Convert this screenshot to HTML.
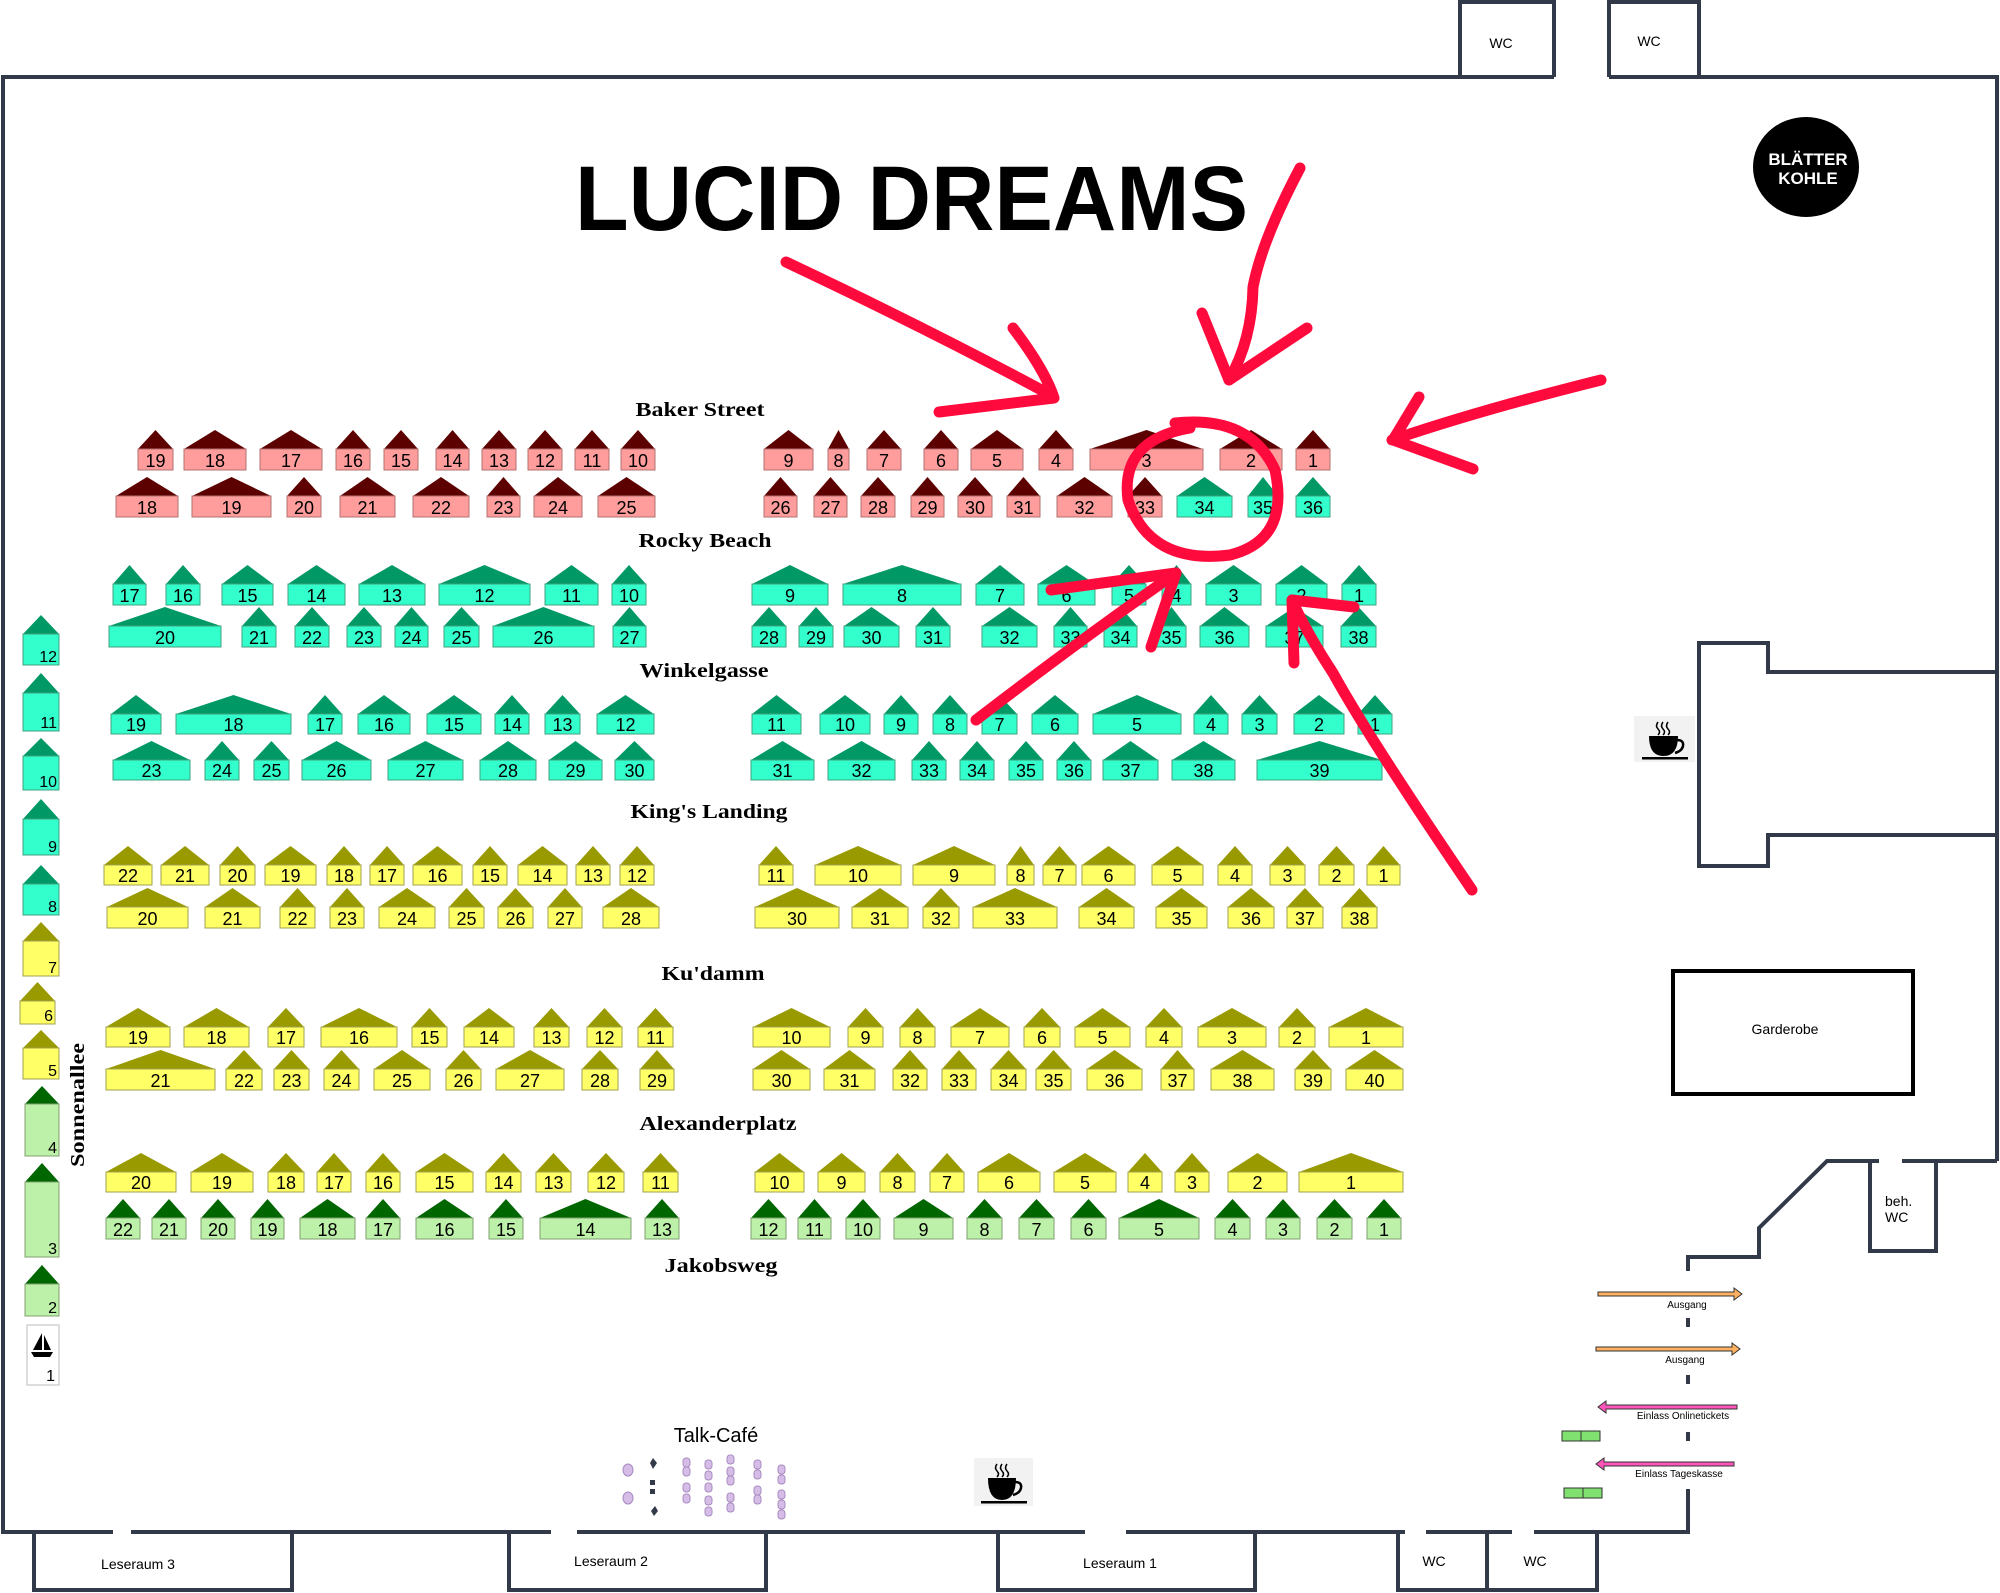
<!DOCTYPE html>
<html><head><meta charset="utf-8"><style>
html,body{margin:0;padding:0;background:#fff}
svg{display:block}
text{font-family:"Liberation Sans",sans-serif}
.n text{font-size:18px;text-anchor:middle;fill:#000}
.p polygon{fill:#5c0000}.p rect{fill:#ff9c9c;stroke:#b07070;stroke-width:1}
.t polygon{fill:#009966}.t rect{fill:#33ffcc;stroke:#40a080;stroke-width:1}
.y polygon{fill:#999900}.y rect{fill:#ffff66;stroke:#a0a050;stroke-width:1}
.g polygon{fill:#006600}.g rect{fill:#bdf0a8;stroke:#80a070;stroke-width:1}
.st{font-family:"Liberation Serif",serif;font-weight:bold;font-size:20px;text-anchor:middle}
.w{fill:none;stroke:#323a4a;stroke-width:4}
.r{fill:none;stroke:#ff0a3c;stroke-width:11;stroke-linecap:round;stroke-linejoin:round}
.c{fill:#d6bde8;stroke:#a98bc0;stroke-width:1}
</style></head><body>
<svg width="2000" height="1593" viewBox="0 0 2000 1593" xmlns="http://www.w3.org/2000/svg">
<!-- walls -->
<path class="w" d="M3,1532 V77 H1554 M1460,77 V2 H1554 V77 M1609,77 H1997 V1161 M1609,77 V2 H1699 V77"/>
<path class="w" d="M1997,1161 H1902 M1879,1161 H1827 L1759,1228 V1257 H1688 V1271 M1870,1161 V1251 H1936 V1161"/>
<path class="w" d="M1688,1318 V1327 M1688,1375 V1384 M1688,1432 V1441 M1688,1489 V1532 H1534 M1512,1532 H1426 M1405,1532 H1126 M1085,1532 H577 M551,1532 H131 M113,1532 H1"/>
<path class="w" d="M1398,1532 V1590 H1597 V1532 M1487,1532 V1590 M34,1532 V1590 H292 V1532 M509,1532 V1590 H766 V1532 M998,1532 V1590 H1255 V1532"/>
<path class="w" d="M1997,672 H1768 V643 H1699 V866 H1768 V835 H1997"/>
<rect x="1673" y="971" width="240" height="123" fill="none" stroke="#000" stroke-width="4"/>
<g font-size="14" text-anchor="middle">
<text x="1501" y="48">WC</text><text x="1649" y="46">WC</text>
<text x="1785" y="1034">Garderobe</text>
<text x="1434" y="1566">WC</text><text x="1535" y="1566">WC</text>
<text x="138" y="1569">Leseraum 3</text><text x="611" y="1566">Leseraum 2</text><text x="1120" y="1568">Leseraum 1</text>
</g>
<text x="1885" y="1206" font-size="14">beh.</text><text x="1885" y="1222" font-size="14">WC</text>
<!-- title -->
<text x="575" y="230" font-size="92" font-weight="bold" textLength="673" lengthAdjust="spacingAndGlyphs">LUCID DREAMS</text>
<!-- logo -->
<ellipse cx="1806" cy="167" rx="53" ry="50" fill="#000"/>
<text x="1808" y="165" font-size="17" font-weight="bold" fill="#fff" text-anchor="middle">BLÄTTER</text>
<text x="1808" y="184" font-size="17" font-weight="bold" fill="#fff" text-anchor="middle">KOHLE</text>
<!-- street labels -->
<text class="st" x="700" y="416" textLength="129" lengthAdjust="spacingAndGlyphs">Baker Street</text>
<text class="st" x="705" y="547" textLength="133" lengthAdjust="spacingAndGlyphs">Rocky Beach</text>
<text class="st" x="704" y="677" textLength="129" lengthAdjust="spacingAndGlyphs">Winkelgasse</text>
<text class="st" x="709" y="818" textLength="157" lengthAdjust="spacingAndGlyphs">King's Landing</text>
<text class="st" x="713" y="980" textLength="103" lengthAdjust="spacingAndGlyphs">Ku'damm</text>
<text class="st" x="718" y="1130" textLength="157" lengthAdjust="spacingAndGlyphs">Alexanderplatz</text>
<text class="st" x="721" y="1272" textLength="113" lengthAdjust="spacingAndGlyphs">Jakobsweg</text>
<text class="st" transform="translate(84,1105) rotate(-90)" x="0" y="0" textLength="124" lengthAdjust="spacingAndGlyphs">Sonnenallee</text>

<!-- Baker row 1 -->
<g class="n p">
<polygon points="138,449 155.5,430 173,449"/><rect x="138" y="449" width="35" height="21"/><text x="155.5" y="467">19</text>
<polygon points="184,449 215,430 246,449"/><rect x="184" y="449" width="62" height="21"/><text x="215" y="467">18</text>
<polygon points="260,449 291,430 322,449"/><rect x="260" y="449" width="62" height="21"/><text x="291" y="467">17</text>
<polygon points="336,449 353,430 370,449"/><rect x="336" y="449" width="34" height="21"/><text x="353" y="467">16</text>
<polygon points="384,449 401,430 418,449"/><rect x="384" y="449" width="34" height="21"/><text x="401" y="467">15</text>
<polygon points="436,449 452.5,430 469,449"/><rect x="436" y="449" width="33" height="21"/><text x="452.5" y="467">14</text>
<polygon points="482,449 499,430 516,449"/><rect x="482" y="449" width="34" height="21"/><text x="499" y="467">13</text>
<polygon points="528,449 545,430 562,449"/><rect x="528" y="449" width="34" height="21"/><text x="545" y="467">12</text>
<polygon points="575,449 592,430 609,449"/><rect x="575" y="449" width="34" height="21"/><text x="592" y="467">11</text>
<polygon points="621,449 638,430 655,449"/><rect x="621" y="449" width="34" height="21"/><text x="638" y="467">10</text>
<polygon points="764,449 788.5,430 813,449"/><rect x="764" y="449" width="49" height="21"/><text x="788.5" y="467">9</text>
<polygon points="828,449 838.5,430 849,449"/><rect x="828" y="449" width="21" height="21"/><text x="838.5" y="467">8</text>
<polygon points="867,449 884,430 901,449"/><rect x="867" y="449" width="34" height="21"/><text x="884" y="467">7</text>
<polygon points="924,449 941,430 958,449"/><rect x="924" y="449" width="34" height="21"/><text x="941" y="467">6</text>
<polygon points="971,449 997,430 1023,449"/><rect x="971" y="449" width="52" height="21"/><text x="997" y="467">5</text>
<polygon points="1039,449 1056,430 1073,449"/><rect x="1039" y="449" width="34" height="21"/><text x="1056" y="467">4</text>
<polygon points="1090,449 1146.5,430 1203,449"/><rect x="1090" y="449" width="113" height="21"/><text x="1146.5" y="467">3</text>
<polygon points="1220,449 1251,430 1282,449"/><rect x="1220" y="449" width="62" height="21"/><text x="1251" y="467">2</text>
<polygon points="1296,449 1313,430 1330,449"/><rect x="1296" y="449" width="34" height="21"/><text x="1313" y="467">1</text>
</g>
<!-- Baker row 2 -->
<g class="n p">
<polygon points="116,496 147,477 178,496"/><rect x="116" y="496" width="62" height="21"/><text x="147" y="514">18</text>
<polygon points="192,496 231.5,477 271,496"/><rect x="192" y="496" width="79" height="21"/><text x="231.5" y="514">19</text>
<polygon points="287,496 304,477 321,496"/><rect x="287" y="496" width="34" height="21"/><text x="304" y="514">20</text>
<polygon points="340,496 367.5,477 395,496"/><rect x="340" y="496" width="55" height="21"/><text x="367.5" y="514">21</text>
<polygon points="413,496 441,477 469,496"/><rect x="413" y="496" width="56" height="21"/><text x="441" y="514">22</text>
<polygon points="487,496 503.5,477 520,496"/><rect x="487" y="496" width="33" height="21"/><text x="503.5" y="514">23</text>
<polygon points="534,496 558,477 582,496"/><rect x="534" y="496" width="48" height="21"/><text x="558" y="514">24</text>
<polygon points="598,496 626.5,477 655,496"/><rect x="598" y="496" width="57" height="21"/><text x="626.5" y="514">25</text>
<polygon points="764,496 780.5,477 797,496"/><rect x="764" y="496" width="33" height="21"/><text x="780.5" y="514">26</text>
<polygon points="814,496 830.5,477 847,496"/><rect x="814" y="496" width="33" height="21"/><text x="830.5" y="514">27</text>
<polygon points="861,496 878,477 895,496"/><rect x="861" y="496" width="34" height="21"/><text x="878" y="514">28</text>
<polygon points="911,496 927.5,477 944,496"/><rect x="911" y="496" width="33" height="21"/><text x="927.5" y="514">29</text>
<polygon points="958,496 975,477 992,496"/><rect x="958" y="496" width="34" height="21"/><text x="975" y="514">30</text>
<polygon points="1007,496 1023.5,477 1040,496"/><rect x="1007" y="496" width="33" height="21"/><text x="1023.5" y="514">31</text>
<polygon points="1057,496 1084.5,477 1112,496"/><rect x="1057" y="496" width="55" height="21"/><text x="1084.5" y="514">32</text>
<polygon points="1128,496 1145,477 1162,496"/><rect x="1128" y="496" width="34" height="21"/><text x="1145" y="514">33</text>
</g>
<g class="n t">
<polygon points="1177,496 1204.5,477 1232,496"/><rect x="1177" y="496" width="55" height="21"/><text x="1204.5" y="514">34</text>
<polygon points="1248,496 1263,477 1278,496"/><rect x="1248" y="496" width="30" height="21"/><text x="1263" y="514">35</text>
<polygon points="1296,496 1313,477 1330,496"/><rect x="1296" y="496" width="34" height="21"/><text x="1313" y="514">36</text>
</g>
<!-- Rocky row 1 -->
<g class="n t">
<polygon points="113,584 129.5,565 146,584"/><rect x="113" y="584" width="33" height="21"/><text x="129.5" y="602">17</text>
<polygon points="166,584 183,565 200,584"/><rect x="166" y="584" width="34" height="21"/><text x="183" y="602">16</text>
<polygon points="222,584 247.5,565 273,584"/><rect x="222" y="584" width="51" height="21"/><text x="247.5" y="602">15</text>
<polygon points="288,584 316.5,565 345,584"/><rect x="288" y="584" width="57" height="21"/><text x="316.5" y="602">14</text>
<polygon points="359,584 392,565 425,584"/><rect x="359" y="584" width="66" height="21"/><text x="392" y="602">13</text>
<polygon points="439,584 484.5,565 530,584"/><rect x="439" y="584" width="91" height="21"/><text x="484.5" y="602">12</text>
<polygon points="545,584 571.5,565 598,584"/><rect x="545" y="584" width="53" height="21"/><text x="571.5" y="602">11</text>
<polygon points="612,584 629,565 646,584"/><rect x="612" y="584" width="34" height="21"/><text x="629" y="602">10</text>
<polygon points="752,584 790,565 828,584"/><rect x="752" y="584" width="76" height="21"/><text x="790" y="602">9</text>
<polygon points="843,584 902,565 961,584"/><rect x="843" y="584" width="118" height="21"/><text x="902" y="602">8</text>
<polygon points="976,584 1000,565 1024,584"/><rect x="976" y="584" width="48" height="21"/><text x="1000" y="602">7</text>
<polygon points="1038,584 1066.5,565 1095,584"/><rect x="1038" y="584" width="57" height="21"/><text x="1066.5" y="602">6</text>
<polygon points="1112,584 1129,565 1146,584"/><rect x="1112" y="584" width="34" height="21"/><text x="1129" y="602">5</text>
<polygon points="1162,584 1176.5,565 1191,584"/><rect x="1162" y="584" width="29" height="21"/><text x="1176.5" y="602">4</text>
<polygon points="1206,584 1233.5,565 1261,584"/><rect x="1206" y="584" width="55" height="21"/><text x="1233.5" y="602">3</text>
<polygon points="1276,584 1301.5,565 1327,584"/><rect x="1276" y="584" width="51" height="21"/><text x="1301.5" y="602">2</text>
<polygon points="1342,584 1359,565 1376,584"/><rect x="1342" y="584" width="34" height="21"/><text x="1359" y="602">1</text>
</g>
<!-- Rocky row 2 -->
<g class="n t">
<polygon points="109,626 165,607 221,626"/><rect x="109" y="626" width="112" height="21"/><text x="165" y="644">20</text>
<polygon points="242,626 259,607 276,626"/><rect x="242" y="626" width="34" height="21"/><text x="259" y="644">21</text>
<polygon points="295,626 312,607 329,626"/><rect x="295" y="626" width="34" height="21"/><text x="312" y="644">22</text>
<polygon points="347,626 364,607 381,626"/><rect x="347" y="626" width="34" height="21"/><text x="364" y="644">23</text>
<polygon points="395,626 411.5,607 428,626"/><rect x="395" y="626" width="33" height="21"/><text x="411.5" y="644">24</text>
<polygon points="444,626 461.5,607 479,626"/><rect x="444" y="626" width="35" height="21"/><text x="461.5" y="644">25</text>
<polygon points="493,626 543.5,607 594,626"/><rect x="493" y="626" width="101" height="21"/><text x="543.5" y="644">26</text>
<polygon points="613,626 629.5,607 646,626"/><rect x="613" y="626" width="33" height="21"/><text x="629.5" y="644">27</text>
<polygon points="752,626 769,607 786,626"/><rect x="752" y="626" width="34" height="21"/><text x="769" y="644">28</text>
<polygon points="799,626 816,607 833,626"/><rect x="799" y="626" width="34" height="21"/><text x="816" y="644">29</text>
<polygon points="844,626 871.5,607 899,626"/><rect x="844" y="626" width="55" height="21"/><text x="871.5" y="644">30</text>
<polygon points="916,626 933,607 950,626"/><rect x="916" y="626" width="34" height="21"/><text x="933" y="644">31</text>
<polygon points="982,626 1009.5,607 1037,626"/><rect x="982" y="626" width="55" height="21"/><text x="1009.5" y="644">32</text>
<polygon points="1054,626 1070.5,607 1087,626"/><rect x="1054" y="626" width="33" height="21"/><text x="1070.5" y="644">33</text>
<polygon points="1104,626 1120.5,607 1137,626"/><rect x="1104" y="626" width="33" height="21"/><text x="1120.5" y="644">34</text>
<polygon points="1157,626 1171.5,607 1186,626"/><rect x="1157" y="626" width="29" height="21"/><text x="1171.5" y="644">35</text>
<polygon points="1200,626 1224.5,607 1249,626"/><rect x="1200" y="626" width="49" height="21"/><text x="1224.5" y="644">36</text>
<polygon points="1266,626 1294.5,607 1323,626"/><rect x="1266" y="626" width="57" height="21"/><text x="1294.5" y="644">37</text>
<polygon points="1341,626 1358.5,607 1376,626"/><rect x="1341" y="626" width="35" height="21"/><text x="1358.5" y="644">38</text>
</g>
<!-- Winkel row 1 -->
<g class="n t">
<polygon points="111,714 136,695 161,714"/><rect x="111" y="714" width="50" height="20"/><text x="136" y="731">19</text>
<polygon points="176,714 233.5,695 291,714"/><rect x="176" y="714" width="115" height="20"/><text x="233.5" y="731">18</text>
<polygon points="308,714 325,695 342,714"/><rect x="308" y="714" width="34" height="20"/><text x="325" y="731">17</text>
<polygon points="358,714 384,695 410,714"/><rect x="358" y="714" width="52" height="20"/><text x="384" y="731">16</text>
<polygon points="427,714 454,695 481,714"/><rect x="427" y="714" width="54" height="20"/><text x="454" y="731">15</text>
<polygon points="495,714 512,695 529,714"/><rect x="495" y="714" width="34" height="20"/><text x="512" y="731">14</text>
<polygon points="545,714 562.5,695 580,714"/><rect x="545" y="714" width="35" height="20"/><text x="562.5" y="731">13</text>
<polygon points="597,714 625.5,695 654,714"/><rect x="597" y="714" width="57" height="20"/><text x="625.5" y="731">12</text>
<polygon points="752,714 776.5,695 801,714"/><rect x="752" y="714" width="49" height="20"/><text x="776.5" y="731">11</text>
<polygon points="820,714 845,695 870,714"/><rect x="820" y="714" width="50" height="20"/><text x="845" y="731">10</text>
<polygon points="884,714 901,695 918,714"/><rect x="884" y="714" width="34" height="20"/><text x="901" y="731">9</text>
<polygon points="933,714 950,695 967,714"/><rect x="933" y="714" width="34" height="20"/><text x="950" y="731">8</text>
<polygon points="982,714 999.5,695 1017,714"/><rect x="982" y="714" width="35" height="20"/><text x="999.5" y="731">7</text>
<polygon points="1032,714 1055,695 1078,714"/><rect x="1032" y="714" width="46" height="20"/><text x="1055" y="731">6</text>
<polygon points="1093,714 1137,695 1181,714"/><rect x="1093" y="714" width="88" height="20"/><text x="1137" y="731">5</text>
<polygon points="1194,714 1211,695 1228,714"/><rect x="1194" y="714" width="34" height="20"/><text x="1211" y="731">4</text>
<polygon points="1242,714 1259.5,695 1277,714"/><rect x="1242" y="714" width="35" height="20"/><text x="1259.5" y="731">3</text>
<polygon points="1294,714 1319,695 1344,714"/><rect x="1294" y="714" width="50" height="20"/><text x="1319" y="731">2</text>
<polygon points="1358,714 1375,695 1392,714"/><rect x="1358" y="714" width="34" height="20"/><text x="1375" y="731">1</text>
</g>
<!-- Winkel row 2 -->
<g class="n t">
<polygon points="113,760 151.5,741 190,760"/><rect x="113" y="760" width="77" height="20"/><text x="151.5" y="777">23</text>
<polygon points="205,760 222,741 239,760"/><rect x="205" y="760" width="34" height="20"/><text x="222" y="777">24</text>
<polygon points="254,760 271.5,741 289,760"/><rect x="254" y="760" width="35" height="20"/><text x="271.5" y="777">25</text>
<polygon points="302,760 336.5,741 371,760"/><rect x="302" y="760" width="69" height="20"/><text x="336.5" y="777">26</text>
<polygon points="388,760 425.5,741 463,760"/><rect x="388" y="760" width="75" height="20"/><text x="425.5" y="777">27</text>
<polygon points="480,760 508,741 536,760"/><rect x="480" y="760" width="56" height="20"/><text x="508" y="777">28</text>
<polygon points="549,760 575.5,741 602,760"/><rect x="549" y="760" width="53" height="20"/><text x="575.5" y="777">29</text>
<polygon points="615,760 634.5,741 654,760"/><rect x="615" y="760" width="39" height="20"/><text x="634.5" y="777">30</text>
<polygon points="751,760 782.5,741 814,760"/><rect x="751" y="760" width="63" height="20"/><text x="782.5" y="777">31</text>
<polygon points="828,760 861.5,741 895,760"/><rect x="828" y="760" width="67" height="20"/><text x="861.5" y="777">32</text>
<polygon points="912,760 929,741 946,760"/><rect x="912" y="760" width="34" height="20"/><text x="929" y="777">33</text>
<polygon points="960,760 977,741 994,760"/><rect x="960" y="760" width="34" height="20"/><text x="977" y="777">34</text>
<polygon points="1009,760 1026,741 1043,760"/><rect x="1009" y="760" width="34" height="20"/><text x="1026" y="777">35</text>
<polygon points="1057,760 1074,741 1091,760"/><rect x="1057" y="760" width="34" height="20"/><text x="1074" y="777">36</text>
<polygon points="1103,760 1130.5,741 1158,760"/><rect x="1103" y="760" width="55" height="20"/><text x="1130.5" y="777">37</text>
<polygon points="1172,760 1203.5,741 1235,760"/><rect x="1172" y="760" width="63" height="20"/><text x="1203.5" y="777">38</text>
<polygon points="1257,760 1319.5,741 1382,760"/><rect x="1257" y="760" width="125" height="20"/><text x="1319.5" y="777">39</text>
</g>
<!-- King row 1 -->
<g class="n y">
<polygon points="104,865 128,846 152,865"/><rect x="104" y="865" width="48" height="20"/><text x="128" y="882">22</text>
<polygon points="161,865 185,846 209,865"/><rect x="161" y="865" width="48" height="20"/><text x="185" y="882">21</text>
<polygon points="220,865 237.5,846 255,865"/><rect x="220" y="865" width="35" height="20"/><text x="237.5" y="882">20</text>
<polygon points="265,865 290.5,846 316,865"/><rect x="265" y="865" width="51" height="20"/><text x="290.5" y="882">19</text>
<polygon points="327,865 344,846 361,865"/><rect x="327" y="865" width="34" height="20"/><text x="344" y="882">18</text>
<polygon points="370,865 387,846 404,865"/><rect x="370" y="865" width="34" height="20"/><text x="387" y="882">17</text>
<polygon points="413,865 437.5,846 462,865"/><rect x="413" y="865" width="49" height="20"/><text x="437.5" y="882">16</text>
<polygon points="473,865 490,846 507,865"/><rect x="473" y="865" width="34" height="20"/><text x="490" y="882">15</text>
<polygon points="518,865 542.5,846 567,865"/><rect x="518" y="865" width="49" height="20"/><text x="542.5" y="882">14</text>
<polygon points="576,865 593,846 610,865"/><rect x="576" y="865" width="34" height="20"/><text x="593" y="882">13</text>
<polygon points="620,865 637,846 654,865"/><rect x="620" y="865" width="34" height="20"/><text x="637" y="882">12</text>
<polygon points="759,865 776,846 793,865"/><rect x="759" y="865" width="34" height="20"/><text x="776" y="882">11</text>
<polygon points="815,865 858,846 901,865"/><rect x="815" y="865" width="86" height="20"/><text x="858" y="882">10</text>
<polygon points="913,865 954,846 995,865"/><rect x="913" y="865" width="82" height="20"/><text x="954" y="882">9</text>
<polygon points="1007,865 1020.5,846 1034,865"/><rect x="1007" y="865" width="27" height="20"/><text x="1020.5" y="882">8</text>
<polygon points="1043,865 1059.5,846 1076,865"/><rect x="1043" y="865" width="33" height="20"/><text x="1059.5" y="882">7</text>
<polygon points="1082,865 1108.5,846 1135,865"/><rect x="1082" y="865" width="53" height="20"/><text x="1108.5" y="882">6</text>
<polygon points="1152,865 1177.5,846 1203,865"/><rect x="1152" y="865" width="51" height="20"/><text x="1177.5" y="882">5</text>
<polygon points="1218,865 1235,846 1252,865"/><rect x="1218" y="865" width="34" height="20"/><text x="1235" y="882">4</text>
<polygon points="1270,865 1287.5,846 1305,865"/><rect x="1270" y="865" width="35" height="20"/><text x="1287.5" y="882">3</text>
<polygon points="1319,865 1336.5,846 1354,865"/><rect x="1319" y="865" width="35" height="20"/><text x="1336.5" y="882">2</text>
<polygon points="1367,865 1383.5,846 1400,865"/><rect x="1367" y="865" width="33" height="20"/><text x="1383.5" y="882">1</text>
</g>
<!-- King row 2 -->
<g class="n y">
<polygon points="107,907 147.5,888 188,907"/><rect x="107" y="907" width="81" height="21"/><text x="147.5" y="925">20</text>
<polygon points="205,907 232.5,888 260,907"/><rect x="205" y="907" width="55" height="21"/><text x="232.5" y="925">21</text>
<polygon points="280,907 297.5,888 315,907"/><rect x="280" y="907" width="35" height="21"/><text x="297.5" y="925">22</text>
<polygon points="330,907 347,888 364,907"/><rect x="330" y="907" width="34" height="21"/><text x="347" y="925">23</text>
<polygon points="379,907 407,888 435,907"/><rect x="379" y="907" width="56" height="21"/><text x="407" y="925">24</text>
<polygon points="449,907 466.5,888 484,907"/><rect x="449" y="907" width="35" height="21"/><text x="466.5" y="925">25</text>
<polygon points="498,907 515.5,888 533,907"/><rect x="498" y="907" width="35" height="21"/><text x="515.5" y="925">26</text>
<polygon points="548,907 565,888 582,907"/><rect x="548" y="907" width="34" height="21"/><text x="565" y="925">27</text>
<polygon points="603,907 631,888 659,907"/><rect x="603" y="907" width="56" height="21"/><text x="631" y="925">28</text>
<polygon points="755,907 797,888 839,907"/><rect x="755" y="907" width="84" height="21"/><text x="797" y="925">30</text>
<polygon points="852,907 880,888 908,907"/><rect x="852" y="907" width="56" height="21"/><text x="880" y="925">31</text>
<polygon points="923,907 941,888 959,907"/><rect x="923" y="907" width="36" height="21"/><text x="941" y="925">32</text>
<polygon points="973,907 1015,888 1057,907"/><rect x="973" y="907" width="84" height="21"/><text x="1015" y="925">33</text>
<polygon points="1079,907 1106.5,888 1134,907"/><rect x="1079" y="907" width="55" height="21"/><text x="1106.5" y="925">34</text>
<polygon points="1156,907 1181.5,888 1207,907"/><rect x="1156" y="907" width="51" height="21"/><text x="1181.5" y="925">35</text>
<polygon points="1228,907 1251,888 1274,907"/><rect x="1228" y="907" width="46" height="21"/><text x="1251" y="925">36</text>
<polygon points="1287,907 1305,888 1323,907"/><rect x="1287" y="907" width="36" height="21"/><text x="1305" y="925">37</text>
<polygon points="1342,907 1359.5,888 1377,907"/><rect x="1342" y="907" width="35" height="21"/><text x="1359.5" y="925">38</text>
</g>
<!-- Ku row 1 -->
<g class="n y">
<polygon points="106,1027 138,1008 170,1027"/><rect x="106" y="1027" width="64" height="20"/><text x="138" y="1044">19</text>
<polygon points="184,1027 216.5,1008 249,1027"/><rect x="184" y="1027" width="65" height="20"/><text x="216.5" y="1044">18</text>
<polygon points="268,1027 286,1008 304,1027"/><rect x="268" y="1027" width="36" height="20"/><text x="286" y="1044">17</text>
<polygon points="321,1027 359,1008 397,1027"/><rect x="321" y="1027" width="76" height="20"/><text x="359" y="1044">16</text>
<polygon points="412,1027 429.5,1008 447,1027"/><rect x="412" y="1027" width="35" height="20"/><text x="429.5" y="1044">15</text>
<polygon points="464,1027 489,1008 514,1027"/><rect x="464" y="1027" width="50" height="20"/><text x="489" y="1044">14</text>
<polygon points="534,1027 551.5,1008 569,1027"/><rect x="534" y="1027" width="35" height="20"/><text x="551.5" y="1044">13</text>
<polygon points="587,1027 604.5,1008 622,1027"/><rect x="587" y="1027" width="35" height="20"/><text x="604.5" y="1044">12</text>
<polygon points="638,1027 655.5,1008 673,1027"/><rect x="638" y="1027" width="35" height="20"/><text x="655.5" y="1044">11</text>
<polygon points="753,1027 791.5,1008 830,1027"/><rect x="753" y="1027" width="77" height="20"/><text x="791.5" y="1044">10</text>
<polygon points="848,1027 865.5,1008 883,1027"/><rect x="848" y="1027" width="35" height="20"/><text x="865.5" y="1044">9</text>
<polygon points="900,1027 917.5,1008 935,1027"/><rect x="900" y="1027" width="35" height="20"/><text x="917.5" y="1044">8</text>
<polygon points="951,1027 980,1008 1009,1027"/><rect x="951" y="1027" width="58" height="20"/><text x="980" y="1044">7</text>
<polygon points="1024,1027 1042,1008 1060,1027"/><rect x="1024" y="1027" width="36" height="20"/><text x="1042" y="1044">6</text>
<polygon points="1075,1027 1102.5,1008 1130,1027"/><rect x="1075" y="1027" width="55" height="20"/><text x="1102.5" y="1044">5</text>
<polygon points="1146,1027 1164,1008 1182,1027"/><rect x="1146" y="1027" width="36" height="20"/><text x="1164" y="1044">4</text>
<polygon points="1198,1027 1232,1008 1266,1027"/><rect x="1198" y="1027" width="68" height="20"/><text x="1232" y="1044">3</text>
<polygon points="1279,1027 1297,1008 1315,1027"/><rect x="1279" y="1027" width="36" height="20"/><text x="1297" y="1044">2</text>
<polygon points="1329,1027 1366,1008 1403,1027"/><rect x="1329" y="1027" width="74" height="20"/><text x="1366" y="1044">1</text>
</g>
<!-- Ku row 2 -->
<g class="n y">
<polygon points="106,1069 160.5,1050 215,1069"/><rect x="106" y="1069" width="109" height="21"/><text x="160.5" y="1087">21</text>
<polygon points="226,1069 244,1050 262,1069"/><rect x="226" y="1069" width="36" height="21"/><text x="244" y="1087">22</text>
<polygon points="274,1069 291.5,1050 309,1069"/><rect x="274" y="1069" width="35" height="21"/><text x="291.5" y="1087">23</text>
<polygon points="324,1069 341.5,1050 359,1069"/><rect x="324" y="1069" width="35" height="21"/><text x="341.5" y="1087">24</text>
<polygon points="374,1069 402,1050 430,1069"/><rect x="374" y="1069" width="56" height="21"/><text x="402" y="1087">25</text>
<polygon points="446,1069 463.5,1050 481,1069"/><rect x="446" y="1069" width="35" height="21"/><text x="463.5" y="1087">26</text>
<polygon points="496,1069 530,1050 564,1069"/><rect x="496" y="1069" width="68" height="21"/><text x="530" y="1087">27</text>
<polygon points="582,1069 600,1050 618,1069"/><rect x="582" y="1069" width="36" height="21"/><text x="600" y="1087">28</text>
<polygon points="640,1069 657,1050 674,1069"/><rect x="640" y="1069" width="34" height="21"/><text x="657" y="1087">29</text>
<polygon points="753,1069 781.5,1050 810,1069"/><rect x="753" y="1069" width="57" height="21"/><text x="781.5" y="1087">30</text>
<polygon points="824,1069 849.5,1050 875,1069"/><rect x="824" y="1069" width="51" height="21"/><text x="849.5" y="1087">31</text>
<polygon points="893,1069 910,1050 927,1069"/><rect x="893" y="1069" width="34" height="21"/><text x="910" y="1087">32</text>
<polygon points="942,1069 959,1050 976,1069"/><rect x="942" y="1069" width="34" height="21"/><text x="959" y="1087">33</text>
<polygon points="991,1069 1008.5,1050 1026,1069"/><rect x="991" y="1069" width="35" height="21"/><text x="1008.5" y="1087">34</text>
<polygon points="1036,1069 1053.5,1050 1071,1069"/><rect x="1036" y="1069" width="35" height="21"/><text x="1053.5" y="1087">35</text>
<polygon points="1087,1069 1114.5,1050 1142,1069"/><rect x="1087" y="1069" width="55" height="21"/><text x="1114.5" y="1087">36</text>
<polygon points="1161,1069 1177.5,1050 1194,1069"/><rect x="1161" y="1069" width="33" height="21"/><text x="1177.5" y="1087">37</text>
<polygon points="1211,1069 1242.5,1050 1274,1069"/><rect x="1211" y="1069" width="63" height="21"/><text x="1242.5" y="1087">38</text>
<polygon points="1295,1069 1313,1050 1331,1069"/><rect x="1295" y="1069" width="36" height="21"/><text x="1313" y="1087">39</text>
<polygon points="1346,1069 1374.5,1050 1403,1069"/><rect x="1346" y="1069" width="57" height="21"/><text x="1374.5" y="1087">40</text>
</g>
<!-- Alex row 1 -->
<g class="n y">
<polygon points="106,1172 141,1153 176,1172"/><rect x="106" y="1172" width="70" height="20"/><text x="141" y="1189">20</text>
<polygon points="191,1172 222,1153 253,1172"/><rect x="191" y="1172" width="62" height="20"/><text x="222" y="1189">19</text>
<polygon points="268,1172 286,1153 304,1172"/><rect x="268" y="1172" width="36" height="20"/><text x="286" y="1189">18</text>
<polygon points="317,1172 334,1153 351,1172"/><rect x="317" y="1172" width="34" height="20"/><text x="334" y="1189">17</text>
<polygon points="366,1172 383,1153 400,1172"/><rect x="366" y="1172" width="34" height="20"/><text x="383" y="1189">16</text>
<polygon points="416,1172 444.5,1153 473,1172"/><rect x="416" y="1172" width="57" height="20"/><text x="444.5" y="1189">15</text>
<polygon points="486,1172 503.5,1153 521,1172"/><rect x="486" y="1172" width="35" height="20"/><text x="503.5" y="1189">14</text>
<polygon points="536,1172 553.5,1153 571,1172"/><rect x="536" y="1172" width="35" height="20"/><text x="553.5" y="1189">13</text>
<polygon points="588,1172 606,1153 624,1172"/><rect x="588" y="1172" width="36" height="20"/><text x="606" y="1189">12</text>
<polygon points="643,1172 660.5,1153 678,1172"/><rect x="643" y="1172" width="35" height="20"/><text x="660.5" y="1189">11</text>
<polygon points="755,1172 779.5,1153 804,1172"/><rect x="755" y="1172" width="49" height="20"/><text x="779.5" y="1189">10</text>
<polygon points="818,1172 841.5,1153 865,1172"/><rect x="818" y="1172" width="47" height="20"/><text x="841.5" y="1189">9</text>
<polygon points="880,1172 897.5,1153 915,1172"/><rect x="880" y="1172" width="35" height="20"/><text x="897.5" y="1189">8</text>
<polygon points="930,1172 947,1153 964,1172"/><rect x="930" y="1172" width="34" height="20"/><text x="947" y="1189">7</text>
<polygon points="978,1172 1009,1153 1040,1172"/><rect x="978" y="1172" width="62" height="20"/><text x="1009" y="1189">6</text>
<polygon points="1054,1172 1085,1153 1116,1172"/><rect x="1054" y="1172" width="62" height="20"/><text x="1085" y="1189">5</text>
<polygon points="1128,1172 1145,1153 1162,1172"/><rect x="1128" y="1172" width="34" height="20"/><text x="1145" y="1189">4</text>
<polygon points="1175,1172 1192,1153 1209,1172"/><rect x="1175" y="1172" width="34" height="20"/><text x="1192" y="1189">3</text>
<polygon points="1228,1172 1257.5,1153 1287,1172"/><rect x="1228" y="1172" width="59" height="20"/><text x="1257.5" y="1189">2</text>
<polygon points="1299,1172 1351,1153 1403,1172"/><rect x="1299" y="1172" width="104" height="20"/><text x="1351" y="1189">1</text>
</g>
<!-- Alex row 2 -->
<g class="n g">
<polygon points="106,1218 123,1199 140,1218"/><rect x="106" y="1218" width="34" height="21"/><text x="123" y="1236">22</text>
<polygon points="152,1218 169,1199 186,1218"/><rect x="152" y="1218" width="34" height="21"/><text x="169" y="1236">21</text>
<polygon points="201,1218 218,1199 235,1218"/><rect x="201" y="1218" width="34" height="21"/><text x="218" y="1236">20</text>
<polygon points="251,1218 267.5,1199 284,1218"/><rect x="251" y="1218" width="33" height="21"/><text x="267.5" y="1236">19</text>
<polygon points="300,1218 327.5,1199 355,1218"/><rect x="300" y="1218" width="55" height="21"/><text x="327.5" y="1236">18</text>
<polygon points="366,1218 383,1199 400,1218"/><rect x="366" y="1218" width="34" height="21"/><text x="383" y="1236">17</text>
<polygon points="416,1218 444.5,1199 473,1218"/><rect x="416" y="1218" width="57" height="21"/><text x="444.5" y="1236">16</text>
<polygon points="489,1218 506,1199 523,1218"/><rect x="489" y="1218" width="34" height="21"/><text x="506" y="1236">15</text>
<polygon points="540,1218 585.5,1199 631,1218"/><rect x="540" y="1218" width="91" height="21"/><text x="585.5" y="1236">14</text>
<polygon points="645,1218 662,1199 679,1218"/><rect x="645" y="1218" width="34" height="21"/><text x="662" y="1236">13</text>
<polygon points="751,1218 768.5,1199 786,1218"/><rect x="751" y="1218" width="35" height="21"/><text x="768.5" y="1236">12</text>
<polygon points="798,1218 814.5,1199 831,1218"/><rect x="798" y="1218" width="33" height="21"/><text x="814.5" y="1236">11</text>
<polygon points="846,1218 863,1199 880,1218"/><rect x="846" y="1218" width="34" height="21"/><text x="863" y="1236">10</text>
<polygon points="894,1218 923.5,1199 953,1218"/><rect x="894" y="1218" width="59" height="21"/><text x="923.5" y="1236">9</text>
<polygon points="967,1218 984.5,1199 1002,1218"/><rect x="967" y="1218" width="35" height="21"/><text x="984.5" y="1236">8</text>
<polygon points="1019,1218 1036.5,1199 1054,1218"/><rect x="1019" y="1218" width="35" height="21"/><text x="1036.5" y="1236">7</text>
<polygon points="1071,1218 1088.5,1199 1106,1218"/><rect x="1071" y="1218" width="35" height="21"/><text x="1088.5" y="1236">6</text>
<polygon points="1119,1218 1159,1199 1199,1218"/><rect x="1119" y="1218" width="80" height="21"/><text x="1159" y="1236">5</text>
<polygon points="1215,1218 1232.5,1199 1250,1218"/><rect x="1215" y="1218" width="35" height="21"/><text x="1232.5" y="1236">4</text>
<polygon points="1266,1218 1283,1199 1300,1218"/><rect x="1266" y="1218" width="34" height="21"/><text x="1283" y="1236">3</text>
<polygon points="1317,1218 1334.5,1199 1352,1218"/><rect x="1317" y="1218" width="35" height="21"/><text x="1334.5" y="1236">2</text>
<polygon points="1367,1218 1384,1199 1401,1218"/><rect x="1367" y="1218" width="34" height="21"/><text x="1384" y="1236">1</text>
</g>
<!-- Sonnenallee column -->
<g class="t" font-size="16">
<polygon points="23,634 41,615 59,634"/><rect x="23" y="634" width="36" height="31"/><text x="57" y="662" text-anchor="end">12</text>
<polygon points="23,693 41,673 59,693"/><rect x="23" y="693" width="36" height="38"/><text x="57" y="728" text-anchor="end">11</text>
<polygon points="23,756 41,738 59,756"/><rect x="23" y="756" width="36" height="34"/><text x="57" y="787" text-anchor="end">10</text>
<polygon points="23,819 41,799 59,819"/><rect x="23" y="819" width="36" height="36"/><text x="57" y="852" text-anchor="end">9</text>
<polygon points="23,884 41,865 59,884"/><rect x="23" y="884" width="36" height="31"/><text x="57" y="912" text-anchor="end">8</text>
</g>
<g class="y" font-size="16">
<polygon points="23,941 41,922 59,941"/><rect x="23" y="941" width="36" height="35"/><text x="57" y="973" text-anchor="end">7</text>
<polygon points="20,1001 37.5,982 55,1001"/><rect x="20" y="1001" width="35" height="23"/><text x="53" y="1021" text-anchor="end">6</text>
<polygon points="23,1048 41,1030 59,1048"/><rect x="23" y="1048" width="36" height="31"/><text x="57" y="1076" text-anchor="end">5</text>
</g>
<g class="g" font-size="16">
<polygon points="25,1104 42,1086 59,1104"/><rect x="25" y="1104" width="34" height="52"/><text x="57" y="1153" text-anchor="end">4</text>
<polygon points="25,1182 42,1163 59,1182"/><rect x="25" y="1182" width="34" height="75"/><text x="57" y="1254" text-anchor="end">3</text>
<polygon points="25,1284 42,1265 59,1284"/><rect x="25" y="1284" width="34" height="32"/><text x="57" y="1313" text-anchor="end">2</text>
</g>
<rect x="27" y="1325" width="32" height="60" fill="#fff" stroke="#bbb" stroke-width="1"/>
<polygon points="42,1333 42,1350 33,1350" fill="#000"/><polygon points="44,1335 44,1350 51,1350" fill="#000"/>
<path d="M31,1352 H53 L50,1357 H34 Z" fill="#000"/>
<text x="55" y="1381" font-size="16" text-anchor="end">1</text>

<!-- coffee icons -->
<g>
<rect x="1634" y="716" width="61" height="46" fill="#f2f2f2"/>
<path d="M1649,736 H1678 Q1678,756 1663.5,756 Q1649,756 1649,736 Z" fill="#000"/>
<path d="M1677,740 q7,0 6,6 q-1,5 -8,7" fill="none" stroke="#000" stroke-width="2.5"/>
<rect x="1642" y="757" width="46" height="2.5" fill="#000"/>
<path d="M1658,722 q-3,4 0,7 q3,3 0,6 M1663,722 q-3,4 0,7 q3,3 0,6 M1668,722 q-3,4 0,7 q3,3 0,6" fill="none" stroke="#000" stroke-width="1.5"/>
</g>
<g>
<rect x="974" y="1458" width="59" height="48" fill="#f2f2f2"/>
<path d="M988,1478 H1016 Q1016,1500 1002,1500 Q988,1500 988,1478 Z" fill="#000"/>
<path d="M1015,1482 q7,0 6,6 q-1,5 -8,7" fill="none" stroke="#000" stroke-width="2.5"/>
<rect x="981" y="1501" width="46" height="2.5" fill="#000"/>
<path d="M997,1464 q-3,4 0,7 q3,3 0,6 M1002,1464 q-3,4 0,7 q3,3 0,6 M1007,1464 q-3,4 0,7 q3,3 0,6" fill="none" stroke="#000" stroke-width="1.5"/>
</g>

<!-- Talk-Cafe -->
<text x="716" y="1442" font-size="20" text-anchor="middle">Talk-Café</text>
<ellipse class="c" cx="628" cy="1470" rx="5" ry="6"/><ellipse class="c" cx="628" cy="1498" rx="5" ry="6"/>
<g fill="#323a4a">
<polygon points="653,1458 657,1463 653,1469 650,1463"/><rect x="650" y="1480" width="5" height="5"/><rect x="650" y="1489" width="5" height="5"/>
<polygon points="655,1506 658,1511 654,1516 651,1511"/>
</g>
<g class="c">
<rect x="683" y="1458" width="7" height="9" rx="3"/><rect x="683" y="1467" width="7" height="9" rx="3"/><rect x="683" y="1483" width="7" height="9" rx="3"/><rect x="683" y="1494" width="7" height="9" rx="3"/>
<rect x="705" y="1460" width="7" height="9" rx="3"/><rect x="705" y="1471" width="7" height="9" rx="3"/><rect x="705" y="1483" width="7" height="9" rx="3"/><rect x="705" y="1496" width="7" height="9" rx="3"/><rect x="705" y="1507" width="7" height="9" rx="3"/>
<rect x="727" y="1455" width="7" height="9" rx="3"/><rect x="727" y="1467" width="7" height="9" rx="3"/><rect x="727" y="1476" width="7" height="9" rx="3"/><rect x="727" y="1493" width="7" height="9" rx="3"/><rect x="727" y="1503" width="7" height="9" rx="3"/>
<rect x="754" y="1460" width="7" height="9" rx="3"/><rect x="754" y="1470" width="7" height="9" rx="3"/><rect x="754" y="1486" width="7" height="9" rx="3"/><rect x="754" y="1495" width="7" height="9" rx="3"/>
<rect x="778" y="1465" width="7" height="9" rx="3"/><rect x="778" y="1475" width="7" height="9" rx="3"/><rect x="778" y="1490" width="7" height="9" rx="3"/><rect x="778" y="1500" width="7" height="9" rx="3"/><rect x="778" y="1510" width="7" height="9" rx="3"/>
</g>

<!-- entrance arrows -->
<g stroke="#333" stroke-width="1">
<path d="M1598,1292 H1734 V1288 L1742,1294 L1734,1300 V1296 H1598 Z" fill="#ffb060"/>
<path d="M1596,1347 H1732 V1343 L1740,1349 L1732,1355 V1351 H1596 Z" fill="#ffb060"/>
<path d="M1737,1405 H1606 V1401 L1598,1407 L1606,1413 V1409 H1737 Z" fill="#ff55bb"/>
<path d="M1734,1462 H1604 V1458 L1596,1464 L1604,1470 V1466 H1734 Z" fill="#ff55bb"/>
<rect x="1562" y="1431" width="19" height="10" fill="#80e070"/><rect x="1581" y="1431" width="19" height="10" fill="#80e070"/>
<rect x="1564" y="1488" width="19" height="10" fill="#80e070"/><rect x="1583" y="1488" width="19" height="10" fill="#80e070"/>
</g>
<g font-size="10" text-anchor="middle">
<text x="1687" y="1308">Ausgang</text><text x="1685" y="1363">Ausgang</text>
<text x="1683" y="1419">Einlass Onlinetickets</text><text x="1679" y="1477">Einlass Tageskasse</text>
</g>

<!-- red annotations -->
<g class="r">
<path d="M786,262 Q930,330 1047,393"/>
<path d="M1013,328 Q1045,370 1054,398 L939,412"/>
<path d="M1300,168 Q1262,240 1253,287 Q1252,340 1229,380"/>
<path d="M1202,313 L1229,380 L1307,328"/>
<path d="M1601,380 Q1480,410 1392,440"/>
<path d="M1419,397 L1393,440 L1473,469"/>
<path d="M1175,423 Q1250,415 1275,470 Q1290,540 1230,555 Q1150,565 1128,500 Q1120,440 1190,428"/>
<path d="M976,720 Q1080,640 1176,573"/>
<path d="M1051,590 L1176,573 L1151,647"/>
<path d="M1472,890 Q1370,740 1333,673 Q1305,630 1292,600"/>
<path d="M1354,607 L1292,600 L1294,663"/>
</g>
</svg>
</body></html>
